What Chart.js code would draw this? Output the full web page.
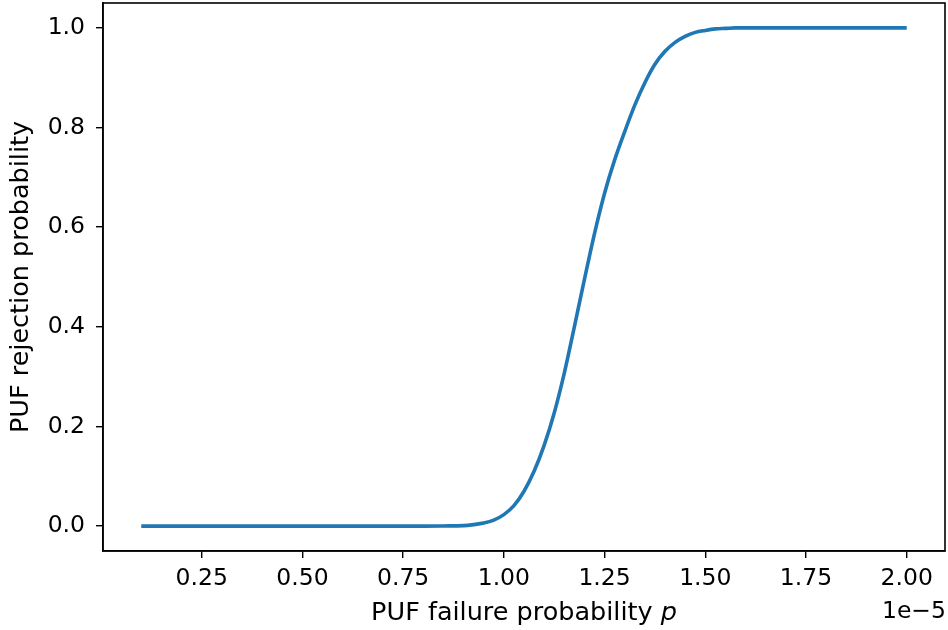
<!DOCTYPE html>
<html>
<head>
<meta charset="utf-8">
<script src="https://cdn.jsdelivr.net/npm/chart.js@4.4.1/dist/chart.umd.min.js"></script>
<style>
html,body{margin:0;padding:0;background:#fff;}
#wrap{width:948px;height:630px;position:relative;}
</style>
</head>
<body>
<div id="wrap"><canvas id="c" width="948" height="630"></canvas></div>
<script>
// Data (x in units of 1e-5)
const failureProb = [0.10,0.20,0.30,0.40,0.50,0.60,0.70,0.80,0.85,0.900,0.925,0.950,0.975,1.000,1.025,1.050,1.075,1.100,1.125,1.150,1.175,1.200,1.225,1.250,1.275,1.300,1.325,1.350,1.375,1.400,1.425,1.450,1.475,1.500,1.525,1.550,1.575,1.600,1.700,1.800,1.900,2.000];
const rejectionProb = [0,0,0,0,0,0,0,0,0.0003,0.001,0.003,0.006,0.012,0.023,0.041,0.070,0.110,0.162,0.227,0.307,0.400,0.495,0.587,0.668,0.735,0.792,0.845,0.890,0.927,0.953,0.971,0.983,0.991,0.995,0.998,0.999,1.0,1.0,1.0,1.0,1.0,1.0];
const xTickValues = [0.25,0.50,0.75,1.00,1.25,1.50,1.75,2.00];
const xTickLabels = ["0.25","0.50","0.75","1.00","1.25","1.50","1.75","2.00"];
const yTickValues = [0.0,0.2,0.4,0.6,0.8,1.0];
const yTickLabels = ["0.0","0.2","0.4","0.6","0.8","1.0"];
const xTitle = "PUF failure probability ";
const xTitleVar = "p";
const yTitle = "PUF rejection probability";
const offsetText = "1e\u22125";

const FONT = "'DejaVu Sans', sans-serif";
const FS = 23.5;
const LFS = 25.5;

const framePlugin = {
  id: 'frame',
  afterDraw(chart) {
    const {ctx, chartArea: a} = chart;
    ctx.save();
    ctx.strokeStyle = '#000';
    ctx.lineWidth = 1.6;
    ctx.strokeRect(a.left, a.top, a.right - a.left, a.bottom - a.top);
    ctx.fillStyle = '#000';
    ctx.textBaseline = 'alphabetic';
    // offset text
    ctx.font = FS + "px " + FONT;
    ctx.textAlign = 'right';
    ctx.fillText(offsetText, a.right + 1, 618);
    // x axis title with italic variable
    const normFont = LFS + "px " + FONT;
    const itFont = "italic " + LFS + "px " + FONT;
    ctx.font = normFont;
    const w1 = ctx.measureText(xTitle).width;
    ctx.font = itFont;
    const w2 = ctx.measureText(xTitleVar).width;
    const cx = (a.left + a.right) / 2;
    const x0 = cx - (w1 + w2) / 2;
    ctx.textAlign = 'left';
    ctx.font = normFont;
    ctx.fillText(xTitle, x0, 620);
    ctx.font = itFont;
    ctx.fillText(xTitleVar, x0 + w1, 620);
    ctx.restore();
  }
};

new Chart(document.getElementById('c'), {
  type: 'line',
  data: {
    datasets: [{
      data: failureProb.map((x, i) => ({x: x, y: rejectionProb[i]})),
      borderColor: '#1f77b4',
      borderWidth: 3.6,
      pointRadius: 0,
      cubicInterpolationMode: 'monotone',
      fill: false
    }]
  },
  options: {
    responsive: false,
    animation: false,
    devicePixelRatio: 1,
    layout: {padding: {left: 0, right: 3, top: 3, bottom: 0}},
    plugins: {legend: {display: false}, tooltip: {enabled: false}},
    scales: {
      x: {
        type: 'linear',
        min: 0.005,
        max: 2.095,
        afterBuildTicks: s => { s.ticks = xTickValues.map(v => ({value: v})); },
        afterFit: s => { s.height = 79; s.paddingLeft = 0; s.paddingRight = 0; },
        ticks: {
          callback: (v) => { const i = xTickValues.indexOf(v); return i >= 0 ? xTickLabels[i] : ''; },
          color: '#000', font: {family: FONT, size: FS}, padding: 7, maxRotation: 0, autoSkip: false
        },
        grid: {drawOnChartArea: false, drawTicks: true, tickLength: 7, color: '#000', lineWidth: 1.4},
        border: {display: true, color: '#000', width: 1.6},
        title: {display: false}
      },
      y: {
        type: 'linear',
        min: -0.05,
        max: 1.05,
        afterBuildTicks: s => { s.ticks = yTickValues.map(v => ({value: v})); },
        afterFit: s => { s.width = 103; s.paddingTop = 0; s.paddingBottom = 0; },
        ticks: {
          callback: (v) => { const i = yTickValues.indexOf(v); return i >= 0 ? yTickLabels[i] : ''; },
          color: '#000', font: {family: FONT, size: FS}, padding: 11
        },
        grid: {drawOnChartArea: false, drawTicks: true, tickLength: 7, color: '#000', lineWidth: 1.4},
        border: {display: true, color: '#000', width: 1.6},
        title: {display: true, text: yTitle, color: '#000', font: {family: FONT, size: LFS}, padding: {top: 6, bottom: 0}}
      }
    }
  },
  plugins: [framePlugin]
});
</script>
</body>
</html>
